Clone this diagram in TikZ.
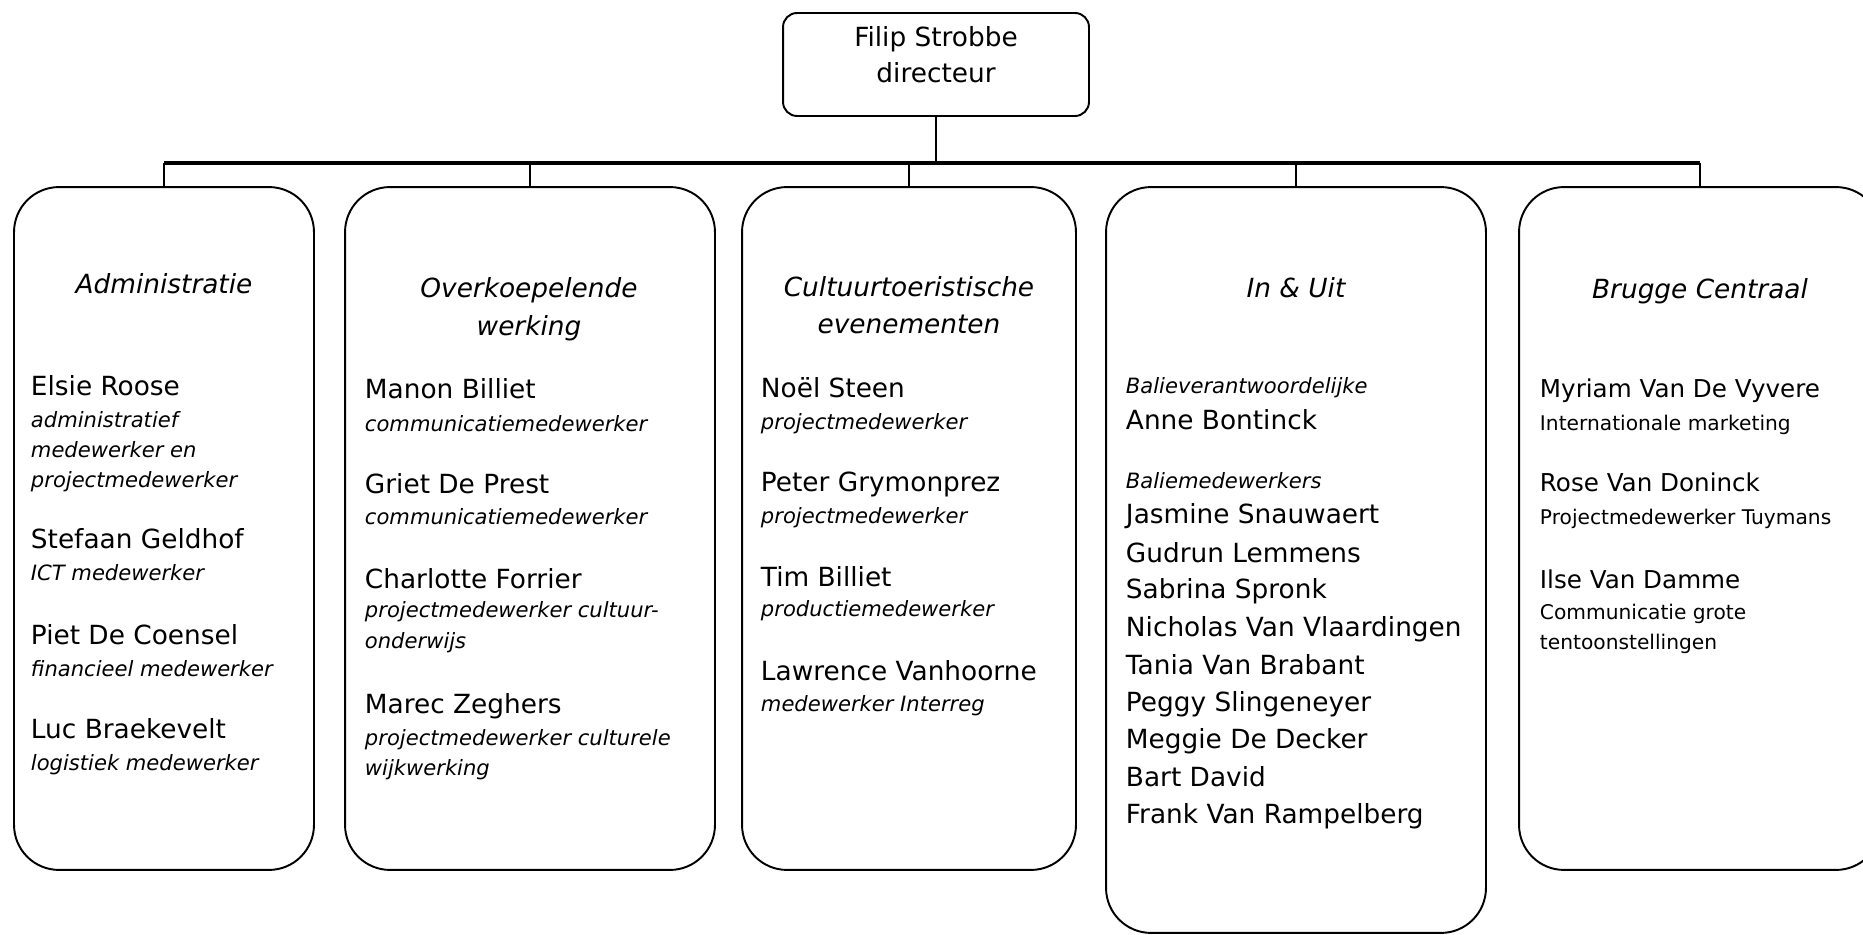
\documentclass[tikz,border=0pt]{standalone}
\usepackage{fontspec}
\setmainfont{DejaVu Sans}
\usepackage{tikz}

\begin{document}
\begin{tikzpicture}[x=0.02cm,y=-0.02cm,line width=1.1pt,
  dept/.style={draw, rounded corners=0.9cm, minimum height=13.66cm},
  head/.style={font=\fontsize{15}{18}\selectfont\itshape, anchor=base, inner sep=0pt},
  nm/.style={font=\fontsize{15}{18}\selectfont, anchor=base west, inner sep=0pt},
  rl/.style={font=\fontsize{12}{15}\selectfont\itshape, anchor=base west, inner sep=0pt},
  nmb/.style={font=\fontsize{14}{17}\selectfont, anchor=base west, inner sep=0pt},
  rlb/.style={font=\fontsize{11.5}{14}\selectfont, anchor=base west, inner sep=0pt}]
\useasboundingbox (0,0) rectangle (1863,935);
\clip (0,0) rectangle (1863,935);

% directeur
\node[draw, rounded corners=0.28cm, minimum width=6.12cm, minimum height=2.06cm] (dir) at (936,64.5) {};
\node[font=\fontsize{15}{18}\selectfont, anchor=base] (dirname) at (936,47) {Filip Strobbe};
\node[font=\fontsize{15}{18}\selectfont, anchor=base] (dirrole) at (936,83) {directeur};

% afdelingen
\node[dept, minimum width=6.0cm] (adm) at (164,528.5) {};
\node[dept, minimum width=7.4cm]  (ovk) at (530,528.5) {};
\node[dept, minimum width=6.68cm] (cte) at (909,528.5) {};
\node[dept, minimum width=7.6cm, minimum height=14.92cm] (inu) at (1296,560) {};
\node[dept, minimum width=7.24cm] (brc) at (1700,528.5) {};

% lijnen
\coordinate (bar) at (936,163);
\draw (dir.south) -- (bar);
\draw[line width=1.8pt] (bar -| adm.north) -- (bar -| brc.north);
\foreach \b in {adm,ovk,cte,inu,brc}
  \draw (bar -| \b.north) -- (\b.north);

% titels
\node[head] (admh) at (164,294) {Administratie};
\node[head] (ovkh) at (529,298) {Overkoepelende};
\node[head] (ovkh2) at (529,336) {werking};
\node[head] (cteh) at (909,297) {Cultuurtoeristische};
\node[head] (cteh2) at (909,334) {evenementen};
\node[head] (inuh) at (1296,298) {In \& Uit};
\node[head] (brch) at (1700,299) {Brugge Centraal};

% medewerkers
\foreach \y/\s/\t in {396/nm/Elsie Roose, 428/rl/administratief, 458/rl/medewerker en,
    488/rl/projectmedewerker, 549/nm/Stefaan Geldhof, 581/rl/ICT medewerker,
    644/nm/Piet De Coensel, 676/rl/financieel medewerker,
    738/nm/Luc Braekevelt, 770/rl/logistiek medewerker}
  \node[\s] (adm\y) at (30,\y) {\t};

\foreach \y/\s/\t in {399/nm/Manon Billiet, 432/rl/communicatiemedewerker,
    494/nm/Griet De Prest, 525/rl/communicatiemedewerker,
    588/nm/Charlotte Forrier, 618/rl/projectmedewerker cultuur-, 648/rl/onderwijs,
    713/nm/Marec Zeghers, 745/rl/projectmedewerker culturele, 775/rl/wijkwerking}
  \node[\s] (ovk\y) at (364,\y) {\t};

\foreach \y/\s/\t in {398/nm/Noël Steen, 430/rl/projectmedewerker,
    492/nm/Peter Grymonprez, 524/rl/projectmedewerker,
    586/nm/Tim Billiet, 617/rl/productiemedewerker,
    680/nm/Lawrence Vanhoorne, 711/rl/medewerker Interreg}
  \node[\s] (cte\y) at (760,\y) {\t};

\foreach \y/\s/\t in {394/rl/Balieverantwoordelijke, 430/nm/Anne Bontinck,
    489/rl/Baliemedewerkers, 524/nm/Jasmine Snauwaert, 562/nm/Gudrun Lemmens,
    599/nm/Sabrina Spronk, 636/nm/Nicholas Van Vlaardingen, 674/nm/Tania Van Brabant,
    711/nm/Peggy Slingeneyer, 748/nm/Meggie De Decker, 786/nm/Bart David,
    823/nm/Frank Van Rampelberg}
  \node[\s] (inu\y) at (1125,\y) {\t};

\foreach \y/\s/\t in {398/nmb/Myriam Van De Vyvere, 431/rlb/Internationale marketing,
    492/nmb/Rose Van Doninck, 525/rlb/Projectmedewerker Tuymans,
    588/nmb/Ilse Van Damme, 620/rlb/Communicatie grote, 649/rlb/tentoonstellingen}
  \node[\s] (brc\y) at (1539,\y) {\t};
\end{tikzpicture}
\end{document}
